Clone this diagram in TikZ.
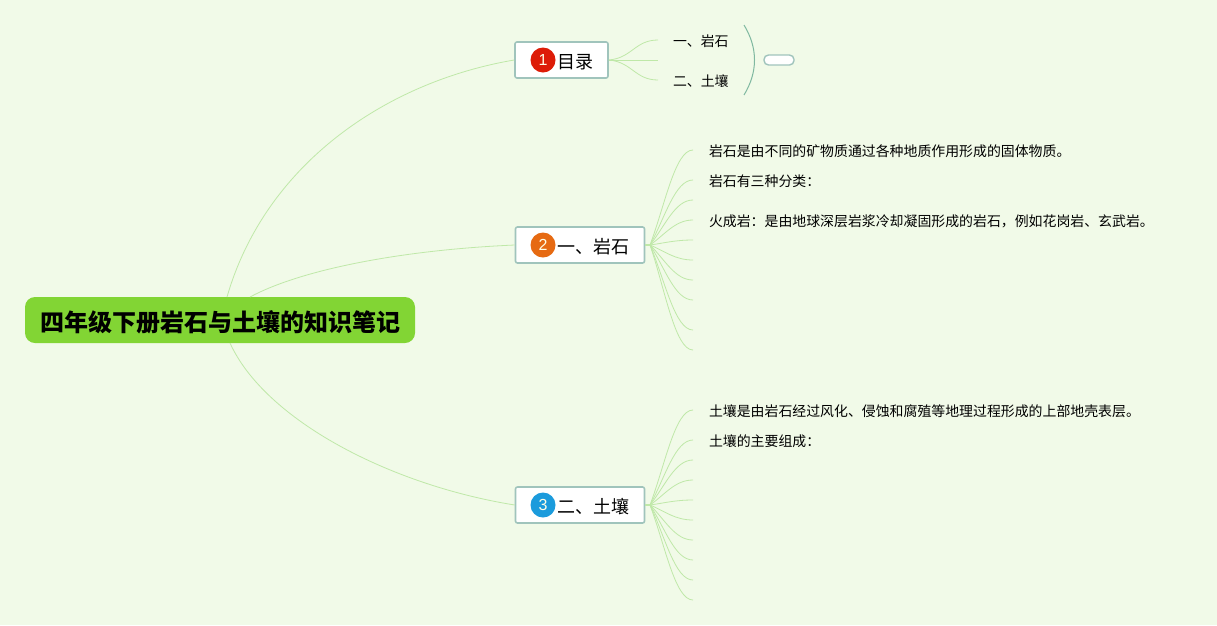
\documentclass[tikz,border=0pt]{standalone}
\usepackage{fontspec}
\setmainfont{Noto Sans CJK SC}
\newfontfamily\digitfont{Liberation Sans}
\usetikzlibrary{calc}
\definecolor{paper}{HTML}{F1FAE8}
\definecolor{rootgreen}{HTML}{82D534}
\definecolor{twig}{HTML}{BFE8A8}
\definecolor{boxedge}{HTML}{A0C4BC}
\definecolor{bracketedge}{HTML}{7FB8A0}
\definecolor{markred}{HTML}{DD1C07}
\definecolor{markorange}{HTML}{E66A12}
\definecolor{markblue}{HTML}{1B9BDC}
\tikzset{
    rootbox/.style={fill=rootgreen, rounded corners=10pt, minimum width=390pt, minimum height=46pt, inner sep=0pt, text height=25pt, text depth=2.5pt, font=\fontsize{24}{28}\selectfont\bfseries},
    branchbox/.style={draw=boxedge, line width=1.6pt, fill=white, rounded corners=2pt, minimum height=36pt, inner xsep=15pt, inner ysep=0pt, text height=18pt, text depth=2pt, font=\fontsize{18}{20}\selectfont},
    marker/.style={circle, minimum size=25pt, inner sep=0pt, text=white!90!yellow, font=\digitfont\fontsize{16}{16}\selectfont},
    leaf/.style={anchor=west, inner ysep=0pt, outer sep=0pt, text height=14pt, text depth=1.7pt, font=\fontsize{13.9}{16}\selectfont},
    twigline/.style={draw=twig, line width=0.8pt}
}
\begin{document}
\begin{tikzpicture}[x=1pt,y=-1pt]
        \useasboundingbox (0,0) rectangle (1217,625);
        \fill[paper] (0,0) rectangle (1217,625);

        % Draw the root and the three branches
        \node[rootbox] (root) at (220,320) {四年级下册岩石与土壤的知识笔记};
        \node[branchbox] (mulu) at (561.5,60) {\hspace*{27pt}目录};
        \node[branchbox] (yanshi) at (580,245) {\hspace*{27pt}一、岩石};
        \node[branchbox] (turang) at (580,505) {\hspace*{27pt}二、土壤};

        % Draw number markers
        \node[marker, fill=markred] (m1) at (543,60) {1};
        \node[marker, fill=markorange] (m2) at (543,245) {2};
        \node[marker, fill=markblue] (m3) at (543,505) {3};

        % Draw main curves
        \coordinate (R1) at (227,297);
        \coordinate (R2) at (250,297);
        \coordinate (R3) at (230,343);
        \draw[twigline] (R1) .. controls (265,165) and (385,82) .. (mulu.west);
        \draw[twigline] (R2) .. controls (300,270) and (400,250) .. (yanshi.west);
        \draw[twigline] (R3) .. controls (265,420) and (390,485) .. (turang.west);

        % Draw the contents leaves
        \node[leaf, inner xsep=15pt] (c1) at (658,40) {一、岩石};
        \coordinate (c2) at (658,60);
        \node[leaf, inner xsep=15pt] (c3) at (658,80) {二、土壤};
        \draw[twigline] (mulu.east) .. controls (632,58) and (635,40) .. (c1.west);
        \draw[twigline] (mulu.east) -- (c2);
        \draw[twigline] (mulu.east) .. controls (632,62) and (635,80) .. (c3.west);

        % Draw bracket and summary pill
        \coordinate (B1) at (744,25);
        \coordinate (B2) at (744,95);
        \draw[bracketedge, line width=1pt] (B1) .. controls (758,48) and (758,72) .. (B2);
        \node[draw=boxedge, line width=1.4pt, fill=white, rounded corners=4.5pt, minimum width=30pt, minimum height=10pt, inner sep=0pt] (pill) at (779,60) {};

        % Draw rock leaves
        \node[leaf, inner xsep=16pt] (y1) at (693,150) {岩石是由不同的矿物质通过各种地质作用形成的固体物质。};
        \node[leaf, inner xsep=16pt] (y2) at (693,180) {岩石有三种分类：};
        \coordinate (y3) at (693,200);
        \node[leaf, inner xsep=16pt] (y4) at (693,220) {火成岩：是由地球深层岩浆冷却凝固形成的岩石，例如花岗岩、玄武岩。};
        \coordinate (y5) at (693,240);
        \coordinate (y6) at (693,260);
        \coordinate (y7) at (693,280);
        \coordinate (y8) at (693,300);
        \coordinate (y9) at (693,330);
        \coordinate (y10) at (693,350);
        \foreach \n/\y in {y1/150,y2/180,y3/200,y4/220,y5/240,y6/260,y7/280,y8/300,y9/330,y10/350} {
            \draw[twigline] (yanshi.east) -- (650,245) .. controls ({665},{245+(\y-245)*0.42}) and (675,\y) .. (\n.west);
        }

        % Draw soil leaves
        \node[leaf, inner xsep=16pt] (t1) at (693,410) {土壤是由岩石经过风化、侵蚀和腐殖等地理过程形成的上部地壳表层。};
        \node[leaf, inner xsep=16pt] (t2) at (693,440) {土壤的主要组成：};
        \coordinate (t3) at (693,460);
        \coordinate (t4) at (693,480);
        \coordinate (t5) at (693,500);
        \coordinate (t6) at (693,520);
        \coordinate (t7) at (693,540);
        \coordinate (t8) at (693,560);
        \coordinate (t9) at (693,580);
        \coordinate (t10) at (693,600);
        \foreach \n/\y in {t1/410,t2/440,t3/460,t4/480,t5/500,t6/520,t7/540,t8/560,t9/580,t10/600} {
            \draw[twigline] (turang.east) -- (650,505) .. controls ({665},{505+(\y-505)*0.42}) and (675,\y) .. (\n.west);
        }
\end{tikzpicture}
\end{document}
